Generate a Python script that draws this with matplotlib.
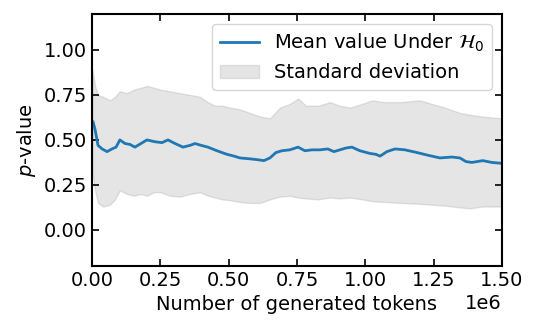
import matplotlib
matplotlib.use("Agg")
import matplotlib.pyplot as plt
import numpy as np

# mean p-value under H0 (x in units of 1e6 tokens)
x_mean = [0.004, 0.011, 0.022, 0.037, 0.055, 0.073, 0.088, 0.102, 0.121, 0.139,
          0.157, 0.179, 0.201, 0.230, 0.256, 0.278, 0.304, 0.333, 0.359, 0.377,
          0.399, 0.424, 0.457, 0.494, 0.520, 0.541, 0.578, 0.607, 0.629, 0.651,
          0.673, 0.695, 0.724, 0.754, 0.779, 0.805, 0.834, 0.863, 0.885, 0.907,
          0.929, 0.951, 0.980, 1.017, 1.039, 1.054, 1.079, 1.109, 1.145, 1.189,
          1.229, 1.273, 1.317, 1.346, 1.368, 1.390, 1.430, 1.463, 1.500]
mean = [0.60, 0.56, 0.47, 0.45, 0.435, 0.45, 0.46, 0.50, 0.48, 0.475,
        0.46, 0.48, 0.50, 0.49, 0.485, 0.50, 0.48, 0.46, 0.47, 0.48,
        0.47, 0.46, 0.44, 0.42, 0.41, 0.40, 0.395, 0.39, 0.385, 0.40,
        0.43, 0.44, 0.445, 0.46, 0.44, 0.445, 0.445, 0.45, 0.435, 0.445,
        0.455, 0.46, 0.44, 0.425, 0.42, 0.41, 0.435, 0.45, 0.445, 0.43,
        0.415, 0.40, 0.405, 0.40, 0.38, 0.375, 0.385, 0.375, 0.37]

# standard deviation band
x_band = [0.002, 0.011, 0.022, 0.040, 0.066, 0.084, 0.102, 0.128, 0.154, 0.179,
          0.201, 0.227, 0.249, 0.285, 0.322, 0.359, 0.395, 0.424, 0.450, 0.476,
          0.505, 0.541, 0.578, 0.615, 0.651, 0.688, 0.724, 0.754, 0.783, 0.827,
          0.871, 0.907, 0.944, 0.988, 1.024, 1.072, 1.127, 1.200, 1.244, 1.291,
          1.346, 1.383, 1.427, 1.500]
upper = [0.89, 0.80, 0.75, 0.74, 0.72, 0.74, 0.77, 0.76, 0.78, 0.79,
         0.80, 0.79, 0.78, 0.77, 0.76, 0.75, 0.74, 0.71, 0.69, 0.69,
         0.68, 0.67, 0.65, 0.63, 0.62, 0.68, 0.70, 0.73, 0.69, 0.69,
         0.71, 0.69, 0.68, 0.70, 0.72, 0.71, 0.71, 0.72, 0.70, 0.68,
         0.65, 0.64, 0.63, 0.62]
lower = [0.32, 0.22, 0.15, 0.13, 0.14, 0.17, 0.22, 0.20, 0.19, 0.20,
         0.19, 0.21, 0.21, 0.19, 0.185, 0.20, 0.21, 0.19, 0.18, 0.17,
         0.165, 0.155, 0.15, 0.15, 0.17, 0.185, 0.19, 0.18, 0.175, 0.17,
         0.18, 0.175, 0.18, 0.17, 0.16, 0.155, 0.15, 0.145, 0.14, 0.135,
         0.125, 0.12, 0.13, 0.13]

plt.rcParams['font.size'] = 14

fig = plt.figure(figsize=(5.38, 3.32), dpi=100)
ax = fig.add_axes([0.171, 0.199, 0.762, 0.759])

xm = np.array(x_mean) * 1e6
xb = np.array(x_band) * 1e6
ax.plot(xm, mean, color='tab:blue', lw=2, label=r'Mean value Under $\mathcal{H}_0$')
ax.fill_between(xb, lower, upper, color='gray', alpha=0.2, label='Standard deviation')

ax.set_xlim(0, 1.5e6)
ax.set_ylim(-0.2, 1.2)
ax.set_yticks([0.0, 0.25, 0.5, 0.75, 1.0])
ax.set_xticks([0, 0.25e6, 0.5e6, 0.75e6, 1.0e6, 1.25e6, 1.5e6])
ax.tick_params(direction='in', top=True, right=True, length=5, width=1.2)
for s in ax.spines.values():
    s.set_linewidth(1.5)
ax.set_xlabel('Number of generated tokens')
ax.set_ylabel(r'$p$-value')
ax.legend(loc='upper right')

fig.savefig('out.png')
